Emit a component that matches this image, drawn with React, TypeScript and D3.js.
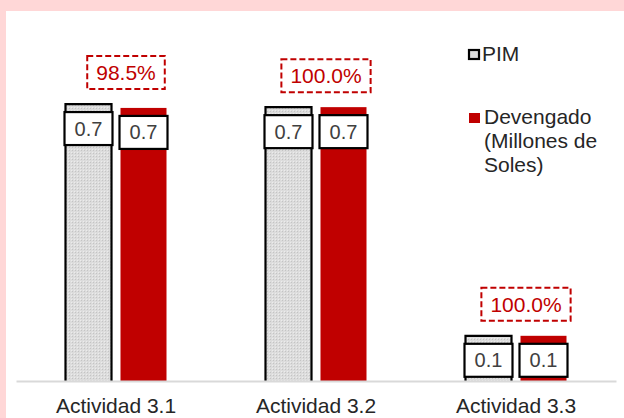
import React, { useEffect, useRef } from "react";
import * as d3 from "d3";

const categories = ["Actividad 3.1", "Actividad 3.2", "Actividad 3.3"];
const pimValues = [0.717, 0.709, 0.117];
const devValues = [0.707, 0.709, 0.117];
const pctLabels = ["98.5%", "100.0%", "100.0%"];
const seriesNames = ["PIM", "Devengado (Millones de Soles)"];

const W = 624;
const H = 418;
const FONT = "'Liberation Sans', Arial, sans-serif";
const RED = "#c00000";

export default function App() {
  const ref = useRef<SVGSVGElement | null>(null);

  useEffect(() => {
    const svg = d3.select(ref.current);
    svg.selectAll("*").remove();

    const defs = svg.append("defs");
    const pat = defs
      .append("pattern")
      .attr("id", "dots")
      .attr("width", 3)
      .attr("height", 3)
      .attr("patternUnits", "userSpaceOnUse");
    pat.append("rect").attr("width", 3).attr("height", 3).attr("fill", "#dcdcdc");
    pat.append("rect").attr("x", 0).attr("y", 0).attr("width", 1).attr("height", 1).attr("fill", "#c4c4c4");
    pat.append("rect").attr("x", 2).attr("y", 2).attr("width", 1).attr("height", 1).attr("fill", "#ececec");

    // background
    svg.append("rect").attr("width", W).attr("height", H).attr("fill", "#ffd7d7");
    svg.append("rect").attr("x", 6).attr("y", 11).attr("width", W - 6).attr("height", H - 11).attr("fill", "#ffffff");

    const baseline = 381;
    const x = d3.scaleBand<string>().domain(categories).range([16, 616]).paddingInner(0).paddingOuter(0);
    const y = d3.scaleLinear().domain([0, 0.8]).range([baseline, 72]);
    const barW = 46;
    const gap = 9;

    const g = svg.append("g");

    categories.forEach((c, i) => {
      const cx = (x(c) as number) + x.bandwidth() / 2;
      const pimX = cx - gap / 2 - barW;
      const devX = cx + gap / 2;
      const pimTop = y(pimValues[i]);
      const devTop = y(devValues[i]);

      // PIM bar
      g.append("rect")
        .attr("x", pimX)
        .attr("y", pimTop)
        .attr("width", barW)
        .attr("height", baseline - pimTop)
        .attr("fill", "url(#dots)");
      g.append("path")
        .attr("d", `M${pimX},${baseline}V${pimTop}H${pimX + barW}V${baseline}`)
        .attr("fill", "none")
        .attr("stroke", "#000")
        .attr("stroke-width", 2.2);

      // Devengado bar
      g.append("rect")
        .attr("x", devX)
        .attr("y", devTop)
        .attr("width", barW)
        .attr("height", baseline - devTop)
        .attr("fill", RED);

      // value label boxes
      const boxes = [
        { bx: pimX, top: pimTop, v: pimValues[i] },
        { bx: devX, top: devTop, v: devValues[i] },
      ];
      boxes.forEach((b) => {
        const by = b.top + 8;
        const bh = 33;
        g.append("rect")
          .attr("x", b.bx - 1)
          .attr("y", by)
          .attr("width", barW + 2)
          .attr("height", bh)
          .attr("fill", "#fff")
          .attr("stroke", "#000")
          .attr("stroke-width", 2.2);
        g.append("text")
          .attr("x", b.bx + barW / 2)
          .attr("y", by + bh / 2 + 7)
          .attr("text-anchor", "middle")
          .attr("font-family", FONT)
          .attr("font-size", 20)
          .attr("fill", "#404040")
          .text(d3.format(".1f")(b.v));
      });

      // percent label
      const topMost = Math.min(pimTop, devTop);
      const boxBottom = topMost - 15;
      const boxH = 33;
      const pcx = cx + 10;
      const t = g
        .append("text")
        .attr("x", pcx)
        .attr("y", boxBottom - boxH / 2 + 7.5)
        .attr("text-anchor", "middle")
        .attr("font-family", FONT)
        .attr("font-size", 21)
        .attr("fill", RED)
        .text(pctLabels[i]);
      const tw = (t.node() as SVGTextElement).getComputedTextLength();
      const bw = tw + 18;
      g.insert("rect", () => t.node())
        .attr("x", pcx - bw / 2)
        .attr("y", boxBottom - boxH)
        .attr("width", bw)
        .attr("height", boxH)
        .attr("fill", "#fff")
        .attr("stroke", RED)
        .attr("stroke-width", 2)
        .attr("stroke-dasharray", "6,3");
    });

    // x axis
    const axis = svg.append("g").attr("transform", `translate(0,${baseline})`).call(d3.axisBottom(x).tickSize(0).tickPadding(0));
    axis.select(".domain").attr("stroke", "#d9d9d9").attr("stroke-width", 2);
    axis
      .selectAll("text")
      .attr("dy", 0)
      .attr("y", 32)
      .attr("font-family", FONT)
      .attr("font-size", 21)
      .attr("fill", "#262626");

    // legend
    const lg = svg.append("g");
    lg.append("rect")
      .attr("x", 469)
      .attr("y", 50)
      .attr("width", 10)
      .attr("height", 9)
      .attr("fill", "#dcdcdc")
      .attr("stroke", "#000")
      .attr("stroke-width", 2.2);
    lg.append("text")
      .attr("x", 482)
      .attr("y", 61)
      .attr("font-family", FONT)
      .attr("font-size", 21)
      .attr("fill", "#262626")
      .text(seriesNames[0]);
    lg.append("rect").attr("x", 469).attr("y", 113).attr("width", 11).attr("height", 10).attr("fill", RED);
    const devLines = ["Devengado", "(Millones de", "Soles)"];
    devLines.forEach((ln, k) => {
      lg.append("text")
        .attr("x", 484)
        .attr("y", 124 + k * 24)
        .attr("font-family", FONT)
        .attr("font-size", 21)
        .attr("fill", "#262626")
        .text(ln);
    });
  }, []);

  return (
    <svg
      ref={ref}
      width={W}
      height={H}
      style={{ position: "absolute", left: 0, top: 0, display: "block" }}
    />
  );
}
